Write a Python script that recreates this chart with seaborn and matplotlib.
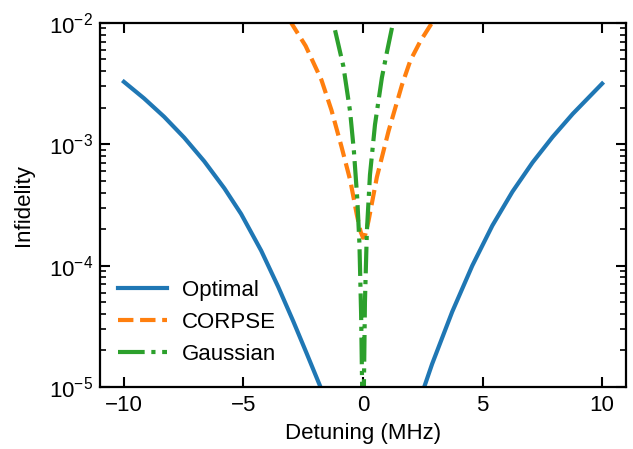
import numpy as np
import pandas as pd
import matplotlib
matplotlib.use("Agg")
import matplotlib.pyplot as plt
import seaborn as sns
from matplotlib.ticker import LogLocator, MultipleLocator, NullFormatter

# Data (detuning in MHz, infidelity)
optimal_x = [-10.0, -9.16, -8.32, -7.48, -6.64, -5.80, -5.10, -4.26, -3.55, -2.92, -2.37, -1.81, -1.3,
             0.4, 2.2, 2.61, 2.89, 3.73, 4.57, 5.41, 6.25, 7.09, 7.93, 8.77, 10.0]
optimal_y = [3.27e-3, 2.39e-3, 1.687e-3, 1.135e-3, 7.24e-4, 4.34e-4, 2.67e-4, 1.33e-4, 6.71e-5, 3.49e-5,
             1.92e-5, 1.035e-5, 5.9e-6,
             1e-9, 6.3e-6, 1.07e-5, 1.55e-5, 4.17e-5, 1.0e-4, 2.14e-4, 4.07e-4, 7.08e-4, 1.15e-3, 1.78e-3, 3.16e-3]

corpse_x = [-3.07, -2.4, -1.74, -1.32, -0.90, -0.53, -0.26, -0.10, 0.0, 0.10, 0.23, 0.58, 1.07, 1.63, 1.98,
            2.4, 2.95]
corpse_y = [1.05e-2, 6.46e-3, 3.39e-3, 1.91e-3, 9.55e-4, 5.0e-4, 2.63e-4, 1.9e-4, 1.7e-4, 1.82e-4, 2.34e-4,
            5.37e-4, 1.29e-3, 3.09e-3, 4.9e-3, 7.08e-3, 1.05e-2]

gauss_x = [-1.17, -0.82, -0.54, -0.38, -0.24, -0.15, -0.08, -0.03, 0.0, 0.03, 0.08, 0.16, 0.29, 0.50, 0.79,
           1.00, 1.21]
gauss_y = [8.7e-3, 4.37e-3, 1.86e-3, 8.7e-4, 3.55e-4, 1.51e-4, 4.0e-5, 7.9e-6, 1e-7, 7.9e-6, 5.0e-5, 1.9e-4,
           5.6e-4, 1.45e-3, 3.55e-3, 5.75e-3, 9.1e-3]

series_names = ["Optimal", "CORPSE", "Gaussian"]
colors = ["#1f77b4", "#ff7f0e", "#2ca02c"]

plt.rcParams["font.family"] = ["Liberation Sans", "DejaVu Sans"]
plt.rcParams["mathtext.fontset"] = "custom"
plt.rcParams["mathtext.rm"] = "Liberation Sans"
plt.rcParams["mathtext.it"] = "Liberation Sans:italic"
plt.rcParams["mathtext.bf"] = "Liberation Sans:bold"
plt.rcParams["text.color"] = "black"
plt.rcParams["axes.labelcolor"] = "black"
plt.rcParams["xtick.color"] = "black"
plt.rcParams["ytick.color"] = "black"

fig = plt.figure(figsize=(6.33, 4.49), dpi=100)
ax = fig.add_axes([0.158, 0.138, 0.831, 0.811])

df_opt = pd.DataFrame({"x": optimal_x, "y": optimal_y})
df_cor = pd.DataFrame({"x": corpse_x, "y": corpse_y})
df_gau = pd.DataFrame({"x": gauss_x, "y": gauss_y})

lw = 3.0
sns.lineplot(data=df_opt, x="x", y="y", ax=ax, color=colors[0], lw=lw, sort=False,
             label=series_names[0], linestyle="-")
sns.lineplot(data=df_cor, x="x", y="y", ax=ax, color=colors[1], lw=lw, sort=False,
             label=series_names[1], linestyle="--")
sns.lineplot(data=df_gau, x="x", y="y", ax=ax, color=colors[2], lw=lw, sort=False,
             label=series_names[2], linestyle="-.")

ax.set_yscale("log")
ax.set_xlim(-11, 11)
ax.set_ylim(1e-5, 1e-2)
ax.xaxis.set_major_locator(MultipleLocator(5))
ax.yaxis.set_major_locator(LogLocator(base=10))
ax.yaxis.set_minor_locator(LogLocator(base=10, subs=(2, 3, 4, 5, 6, 7, 8, 9)))
ax.yaxis.set_minor_formatter(NullFormatter())

ax.set_xlabel("Detuning (MHz)", fontsize=16, labelpad=5)
ax.set_ylabel("Infidelity", fontsize=16, labelpad=11)
ax.tick_params(axis="both", which="major", direction="in", length=7, width=1.5,
               labelsize=16, top=True, right=True, color="black")
ax.tick_params(axis="x", which="major", pad=6)
ax.tick_params(axis="y", which="major", pad=5)
ax.tick_params(axis="y", which="minor", direction="in", length=4, width=1.2,
               left=True, right=True, color="black")
for s in ax.spines.values():
    s.set_linewidth(1.6)
    s.set_color("black")

ax.legend(loc="lower left", frameon=False, fontsize=16, handlelength=2.2, handletextpad=0.7,
          bbox_to_anchor=(0.017, 0.036), borderaxespad=0.0, labelspacing=0.5)

fig.savefig("out.png", dpi=100)
